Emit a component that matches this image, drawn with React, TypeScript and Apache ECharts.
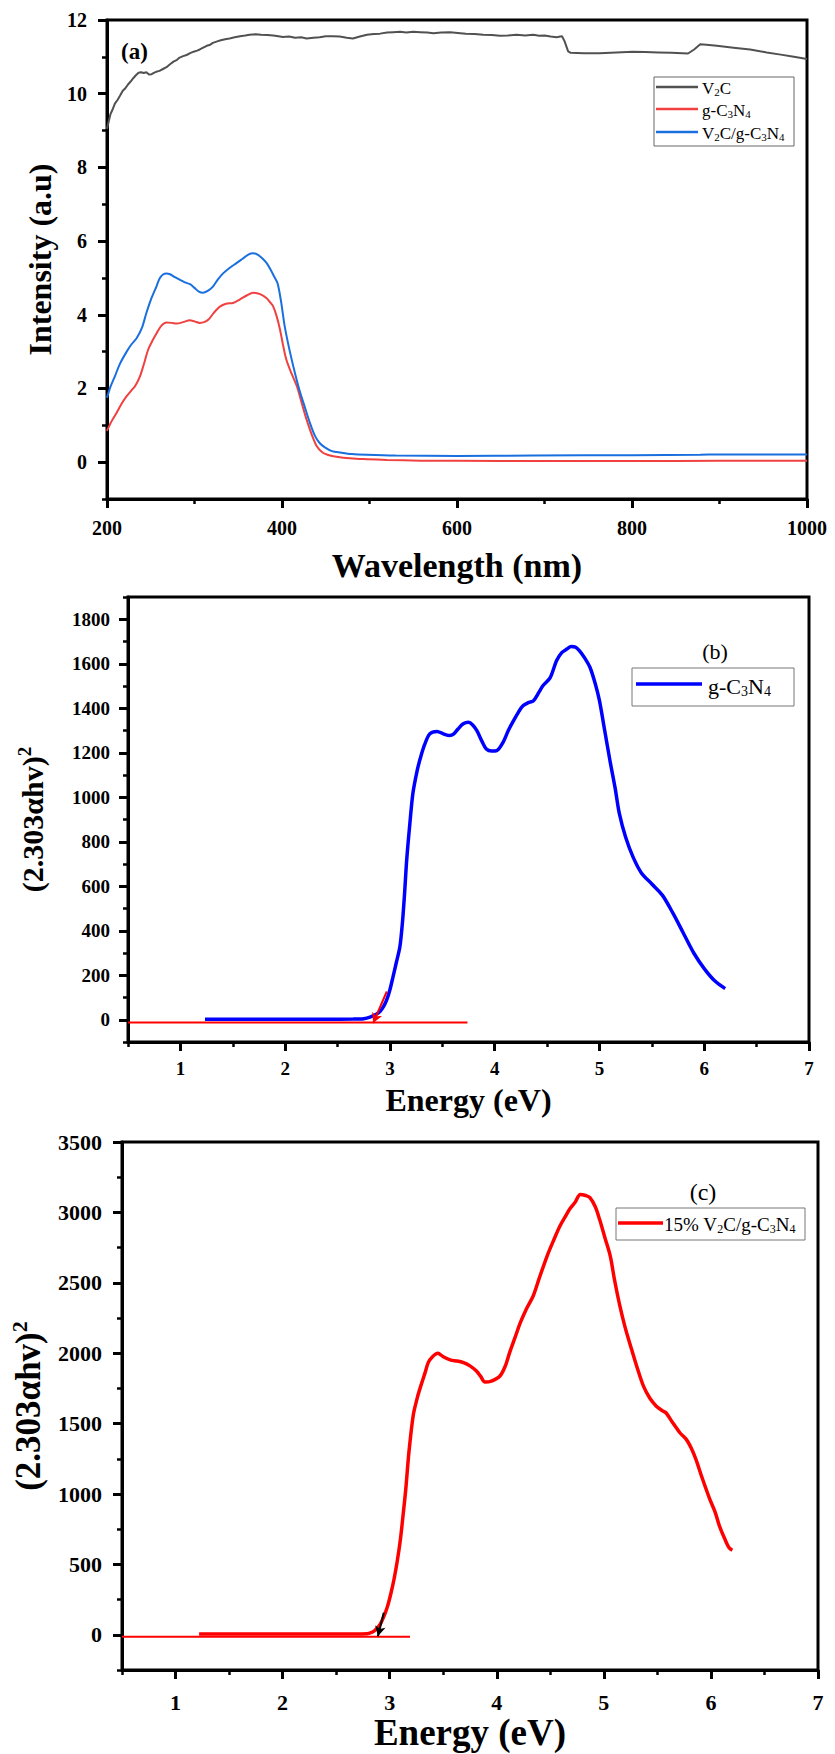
import React, { useEffect, useRef } from "react";
import * as echarts from "echarts";

const FONT = "Liberation Serif";

// ---------- Panel (a): absorbance spectra ----------
const aXMajor = [200, 400, 600, 800, 1000];
const aXMinor = [300, 500, 700, 900];
const aYMajor = [0, 2, 4, 6, 8, 10, 12];
const aYMinor = [-1, 1, 3, 5, 7, 9, 11];

const v2cSpectrum = [
  [200, 9.05], [202, 9.25], [204, 9.45], [206, 9.55], [209, 9.73], [212, 9.83], [215, 9.95], [218, 10.08],
  [221, 10.15], [224, 10.25], [227, 10.33], [230, 10.42], [233, 10.5], [236, 10.57], [239, 10.58], [242, 10.56],
  [245, 10.58], [248, 10.52], [251, 10.53], [254, 10.57], [257, 10.6], [260, 10.62], [264, 10.67], [268, 10.72],
  [272, 10.8], [276, 10.87], [280, 10.92], [283, 10.98], [287, 11.02], [291, 11.05], [295, 11.1], [299, 11.14],
  [303, 11.17], [306, 11.2], [310, 11.25], [314, 11.3], [318, 11.33], [321, 11.38], [326, 11.42], [330, 11.45],
  [335, 11.48], [340, 11.5], [346, 11.53], [352, 11.56], [358, 11.58], [363, 11.6], [370, 11.61], [376, 11.6],
  [383, 11.59], [390, 11.58], [396, 11.56], [401, 11.54], [408, 11.55], [415, 11.52], [422, 11.53], [428, 11.5],
  [436, 11.52], [443, 11.53], [450, 11.56], [458, 11.56], [466, 11.55], [474, 11.52], [481, 11.5], [489, 11.55],
  [497, 11.6], [505, 11.62], [512, 11.63], [520, 11.66], [527, 11.67], [535, 11.68], [542, 11.66], [550, 11.68],
  [558, 11.67], [566, 11.66], [573, 11.64], [582, 11.66], [592, 11.67], [601, 11.65], [610, 11.63], [620, 11.62],
  [630, 11.6], [640, 11.59], [649, 11.57], [658, 11.58], [668, 11.6], [678, 11.58], [687, 11.6], [694, 11.57],
  [700, 11.58], [707, 11.55], [714, 11.53], [718, 11.55], [720, 11.56], [723, 11.42], [727, 11.15], [730, 11.11],
  [745, 11.1], [763, 11.1], [782, 11.12], [801, 11.14], [815, 11.13], [830, 11.12], [845, 11.11], [864, 11.09],
  [871, 11.2], [878, 11.34], [885, 11.33], [897, 11.3], [916, 11.25], [935, 11.2], [954, 11.12], [970, 11.06],
  [985, 11.0], [1000, 10.94],
];

const gcnSpectrum = [
  [200, 0.85], [205, 1.1], [211, 1.34], [217, 1.6], [222.5, 1.79], [228, 1.95], [232, 2.06], [237.7, 2.33],
  [242, 2.65], [247, 3.05], [252, 3.3], [256.7, 3.5], [262, 3.7], [268, 3.79], [274, 3.78], [279.5, 3.76],
  [287, 3.8], [294.7, 3.85], [300, 3.82], [306, 3.78], [311, 3.8], [316, 3.87], [322, 4.05], [329, 4.22],
  [336, 4.3], [344, 4.32], [352, 4.42], [360, 4.53], [367, 4.6], [375, 4.56], [382.5, 4.45], [387, 4.32],
  [390, 4.22], [394, 3.95], [397.7, 3.6], [401, 3.2], [405, 2.78], [411, 2.4], [417, 2.06], [422, 1.65],
  [428, 1.16], [434, 0.75], [439.6, 0.44], [446, 0.27], [452, 0.2], [458.6, 0.16], [470, 0.12], [485, 0.09],
  [497, 0.08], [520, 0.06], [558, 0.04], [600, 0.035], [700, 0.03], [800, 0.03], [900, 0.035], [1000, 0.035],
];

const compositeSpectrum = [
  [200, 1.75], [204, 2.05], [209, 2.33], [215, 2.68], [222.5, 3.0], [228, 3.2], [234, 3.37], [240, 3.65],
  [245, 4.05], [250, 4.4], [256.7, 4.78], [260, 4.98], [264.4, 5.1], [268, 5.12], [272, 5.1], [277, 5.03],
  [283.4, 4.95], [289, 4.88], [294.9, 4.83], [300, 4.73], [305, 4.63], [310, 4.6], [316, 4.66], [321.5, 4.78],
  [327, 4.97], [333, 5.13], [340, 5.27], [348, 5.4], [355, 5.52], [362, 5.64], [367, 5.67], [373, 5.62],
  [378, 5.52], [382.5, 5.4], [387, 5.22], [391, 5.04], [395, 4.85], [399, 4.35], [403, 3.7], [409, 3.0],
  [415, 2.4], [420, 1.95], [426, 1.5], [432, 1.06], [437.5, 0.72], [443, 0.52], [449, 0.4], [457, 0.3],
  [467, 0.26], [480, 0.22], [497, 0.2], [530, 0.18], [600, 0.17], [687, 0.18], [800, 0.19], [878, 0.2],
  [900, 0.21], [1000, 0.21],
];

// ---------- Panel (b): Tauc plot g-C3N4 ----------
const bXMajor = [1, 2, 3, 4, 5, 6, 7];
const bXMinor = [0.5, 1.5, 2.5, 3.5, 4.5, 5.5, 6.5];
const bYMajor = [0, 200, 400, 600, 800, 1000, 1200, 1400, 1600, 1800];
const bYMinor = [-100, 100, 300, 500, 700, 900, 1100, 1300, 1500, 1700, 1900];

const gcnTauc = [
  [1.235, 2], [1.5, 2], [2.0, 2], [2.4, 2], [2.65, 3], [2.75, 5], [2.81, 12], [2.87, 25], [2.905, 37],
  [2.94, 60], [2.97, 90], [3.0, 135], [3.03, 194], [3.06, 255], [3.095, 328], [3.12, 440], [3.14, 568],
  [3.16, 717], [3.19, 880], [3.22, 1020], [3.26, 1120], [3.29, 1175], [3.33, 1235], [3.38, 1285],
  [3.45, 1296], [3.51, 1285], [3.57, 1277], [3.61, 1285], [3.65, 1307], [3.7, 1330], [3.75, 1337],
  [3.79, 1325], [3.83, 1299], [3.88, 1250], [3.92, 1217], [3.97, 1208], [4.02, 1210], [4.08, 1247],
  [4.13, 1300], [4.18, 1344], [4.23, 1385], [4.27, 1411], [4.32, 1425], [4.37, 1434], [4.42, 1470],
  [4.46, 1501], [4.53, 1538], [4.59, 1613], [4.64, 1650], [4.69, 1666], [4.73, 1677], [4.77, 1675],
  [4.81, 1658], [4.86, 1625], [4.91, 1583], [4.96, 1510], [5.0, 1434], [5.05, 1300], [5.1, 1165],
  [5.15, 1040], [5.19, 926], [5.25, 820], [5.32, 732], [5.4, 660], [5.5, 610], [5.6, 560], [5.7, 480],
  [5.8, 390], [5.9, 300], [6.0, 230], [6.1, 175], [6.2, 140],
];
const bBaseline = [[0.5, -12], [3.74, -12]];
const bArrow = [[2.97, 127], [2.84, -15]];

// ---------- Panel (c): Tauc plot 15% V2C/g-C3N4 ----------
const cXMajor = [1, 2, 3, 4, 5, 6, 7];
const cXMinor = [0.5, 1.5, 2.5, 3.5, 4.5, 5.5, 6.5];
const cYMajor = [0, 500, 1000, 1500, 2000, 2500, 3000, 3500];
const cYMinor = [-250, 250, 750, 1250, 1750, 2250, 2750, 3250];

const compTauc = [
  [1.22, 5], [1.5, 5], [2.0, 5], [2.5, 5], [2.79, 8], [2.84, 20], [2.87, 38], [2.91, 73], [2.945, 130],
  [2.98, 203], [3.01, 290], [3.04, 393], [3.07, 520], [3.1, 677], [3.125, 850], [3.15, 1032], [3.18, 1300],
  [3.22, 1560], [3.26, 1690], [3.29, 1766], [3.33, 1860], [3.36, 1933], [3.4, 1975], [3.45, 1999],
  [3.5, 1975], [3.57, 1951], [3.63, 1945], [3.69, 1933], [3.75, 1910], [3.81, 1873], [3.85, 1835],
  [3.89, 1795], [3.95, 1802], [4.03, 1838], [4.08, 1910], [4.12, 2004], [4.17, 2110], [4.22, 2217],
  [4.28, 2320], [4.34, 2406], [4.4, 2540], [4.47, 2690], [4.53, 2800], [4.59, 2903], [4.64, 2970],
  [4.68, 3022], [4.73, 3070], [4.78, 3128], [4.83, 3120], [4.87, 3105], [4.92, 3040], [4.96, 2951],
  [5.01, 2820], [5.06, 2690], [5.1, 2520], [5.15, 2335], [5.2, 2180], [5.25, 2050], [5.31, 1900],
  [5.37, 1766], [5.43, 1680], [5.49, 1624], [5.55, 1590], [5.58, 1577], [5.64, 1510], [5.71, 1435],
  [5.77, 1388], [5.82, 1320], [5.86, 1246], [5.92, 1110], [5.99, 962], [6.04, 870], [6.08, 772],
  [6.13, 680], [6.17, 618], [6.2, 601],
];
const cBaseline = [[0.5, -14], [3.19, -14]];
const cArrow = [[2.945, 156], [2.89, -10]];

type AxisSpec = {
  grid: number;
  min: number;
  max: number;
  major: number[];
  minor: number[];
  labelSize: number;
  margin: number;
  name: string;
  nameGap: number;
  nameSize: number;
  rich?: any;
};

function makeAxes(dim: "x" | "y", s: AxisSpec) {
  const position = dim === "x" ? "bottom" : "left";
  const base = {
    type: "value",
    gridIndex: s.grid,
    min: s.min,
    max: s.max,
    position,
    splitLine: { show: false },
  };
  return [
    {
      ...base,
      axisLine: { show: true, onZero: false, lineStyle: { color: "#000", width: 3 } },
      axisTick: {
        show: true,
        inside: false,
        length: 9,
        lineStyle: { color: "#000", width: 3 },
        customValues: s.major,
      },
      axisLabel: {
        show: true,
        customValues: s.major,
        margin: s.margin,
        color: "#000",
        fontFamily: FONT,
        fontWeight: "bold",
        fontSize: s.labelSize,
        formatter: (v: number) => String(v),
      },
      name: s.name,
      nameLocation: "middle",
      nameGap: s.nameGap,
      nameRotate: dim === "y" ? 90 : 0,
      nameTextStyle: {
        color: "#000",
        fontFamily: FONT,
        fontWeight: "bold",
        fontSize: s.nameSize,
        rich: s.rich,
      },
    },
    {
      ...base,
      axisLine: { show: false, onZero: false },
      axisTick: {
        show: true,
        inside: false,
        length: 5,
        lineStyle: { color: "#000", width: 2.5 },
        customValues: s.minor,
      },
      axisLabel: { show: false },
    },
  ];
}

function tauc(size: number, supSize: number, shift: number) {
  return {
    t: { fontSize: size, fontWeight: "bold", fontFamily: FONT, color: "#000" },
    sup: { fontSize: supSize, fontWeight: "bold", fontFamily: FONT, color: "#000", padding: [0, 0, shift, 0] },
  };
}

function legendRich(size: number, sub: number, shift: number) {
  return {
    n: { fontSize: size, fontFamily: FONT, fill: "#000" },
    s: { fontSize: sub, fontFamily: FONT, fill: "#000", padding: [shift, 0, 0, 0] },
  };
}

function buildOption() {
  const xAxes = [
    ...makeAxes("x", { grid: 0, min: 200, max: 1000, major: aXMajor, minor: aXMinor, labelSize: 20, margin: 19, name: "Wavelength (nm)", nameGap: 49, nameSize: 34 }),
    ...makeAxes("x", { grid: 1, min: 0.5, max: 7, major: bXMajor, minor: bXMinor, labelSize: 19, margin: 17, name: "Energy (eV)", nameGap: 42, nameSize: 32 }),
    ...makeAxes("x", { grid: 2, min: 0.5, max: 7, major: cXMajor, minor: cXMinor, labelSize: 22, margin: 21, name: "Energy (eV)", nameGap: 43, nameSize: 37 }),
  ];
  const yAxes = [
    ...makeAxes("y", { grid: 0, min: -1, max: 12, major: aYMajor, minor: aYMinor, labelSize: 20, margin: 20, name: "Intensity (a.u)", nameGap: 43, nameSize: 32 }),
    ...makeAxes("y", { grid: 1, min: -100, max: 1900, major: bYMajor, minor: bYMinor, labelSize: 19, margin: 18, name: "{t|(2.303αhv)}{sup|2}", nameGap: 78, nameSize: 30, rich: tauc(30, 19, 16) }),
    ...makeAxes("y", { grid: 2, min: -250, max: 3500, major: cYMajor, minor: cYMinor, labelSize: 22, margin: 20, name: "{t|(2.303αhv)}{sup|2}", nameGap: 74, nameSize: 35, rich: tauc(35, 22, 18) }),
  ];

  const gridStyle = { show: true, borderColor: "#000", borderWidth: 3, backgroundColor: "transparent" };

  const lineSeries = (name: string, g: number, data: number[][], color: string, width: number, smooth: number | boolean) => ({
    name,
    type: "line",
    xAxisIndex: 2 * g,
    yAxisIndex: 2 * g,
    data,
    symbol: "none",
    showSymbol: false,
    smooth,
    silent: true,
    lineStyle: { color, width },
    itemStyle: { color },
  });

  const baseline = (name: string, g: number, data: number[][], arrow: number[][], arrowColor: string) => ({
    ...lineSeries(name, g, data, "#FF0000", 2, false),
    z: 3,
    markLine: {
      silent: true,
      symbol: ["none", "arrow"],
      symbolSize: [8, 10],
      label: { show: false },
      lineStyle: { color: arrowColor, width: 2, type: "solid" },
      data: [[{ coord: arrow[0] }, { coord: arrow[1] }]],
    },
  });

  const rA = legendRich(17, 11, 8);
  const rB = legendRich(22, 14, 10);
  const rC = legendRich(19, 12, 9);

  const graphic = [
    { type: "text", x: 121, y: 51, style: { text: "(a)", fontFamily: FONT, fontWeight: "bold", fontSize: 23, fill: "#000", verticalAlign: "middle" } },
    // legend (a)
    { type: "rect", shape: { x: 654, y: 77, width: 140, height: 69 }, style: { fill: "#fff", stroke: "#666", lineWidth: 1 }, z: 10 },
    { type: "line", shape: { x1: 656, y1: 87, x2: 698, y2: 87 }, style: { stroke: "#515151", lineWidth: 2.5 }, z: 11 },
    { type: "line", shape: { x1: 656, y1: 109, x2: 698, y2: 109 }, style: { stroke: "#F14040", lineWidth: 2.5 }, z: 11 },
    { type: "line", shape: { x1: 656, y1: 132, x2: 698, y2: 132 }, style: { stroke: "#1A6FDF", lineWidth: 2.5 }, z: 11 },
    { type: "text", x: 702, y: 88, z: 11, style: { text: "{n|V}{s|2}{n|C}", rich: rA, verticalAlign: "middle" } },
    { type: "text", x: 702, y: 110, z: 11, style: { text: "{n|g-C}{s|3}{n|N}{s|4}", rich: rA, verticalAlign: "middle" } },
    { type: "text", x: 702, y: 133, z: 11, style: { text: "{n|V}{s|2}{n|C/g-C}{s|3}{n|N}{s|4}", rich: rA, verticalAlign: "middle" } },
    // panel (b)
    { type: "text", x: 715, y: 651, style: { text: "(b)", fontFamily: FONT, fontSize: 22, fill: "#000", align: "center", verticalAlign: "middle" } },
    { type: "rect", shape: { x: 632, y: 668, width: 162, height: 38 }, style: { fill: "#fff", stroke: "#777", lineWidth: 1 }, z: 10 },
    { type: "line", shape: { x1: 636, y1: 684, x2: 702, y2: 684 }, style: { stroke: "#0000FF", lineWidth: 3.5 }, z: 11 },
    { type: "text", x: 708, y: 686, z: 11, style: { text: "{n|g-C}{s|3}{n|N}{s|4}", rich: rB, verticalAlign: "middle" } },
    // panel (c)
    { type: "text", x: 703, y: 1192, style: { text: "(c)", fontFamily: FONT, fontSize: 24, fill: "#000", align: "center", verticalAlign: "middle" } },
    { type: "rect", shape: { x: 616, y: 1208, width: 189, height: 32 }, style: { fill: "#fff", stroke: "#777", lineWidth: 1 }, z: 10 },
    { type: "line", shape: { x1: 618, y1: 1223, x2: 663, y2: 1223 }, style: { stroke: "#FF0000", lineWidth: 3.5 }, z: 11 },
    { type: "text", x: 664, y: 1224, z: 11, style: { text: "{n|15% V}{s|2}{n|C/g-C}{s|3}{n|N}{s|4}", rich: rC, verticalAlign: "middle" } },
  ];

  return {
    animation: false,
    backgroundColor: "#fff",
    grid: [
      { left: 107, top: 20, width: 700, height: 479, ...gridStyle },
      { left: 128, top: 597, width: 681, height: 445, ...gridStyle },
      { left: 121, top: 1142, width: 697, height: 528, ...gridStyle },
    ],
    xAxis: xAxes,
    yAxis: yAxes,
    series: [
      lineSeries("V2C", 0, v2cSpectrum, "#515151", 2, false),
      lineSeries("g-C3N4", 0, gcnSpectrum, "#F14040", 2, 0.3),
      lineSeries("V2C/g-C3N4", 0, compositeSpectrum, "#1A6FDF", 2, 0.3),
      lineSeries("g-C3N4 Tauc", 1, gcnTauc, "#0000FF", 3.5, 0.3),
      baseline("g-C3N4 baseline", 1, bBaseline, bArrow, "#FF0000"),
      lineSeries("15% V2C/g-C3N4 Tauc", 2, compTauc, "#FF0000", 3.5, 0.3),
      baseline("15% baseline", 2, cBaseline, cArrow, "#000000"),
    ],
    graphic,
  };
}

export default function App() {
  const ref = useRef<HTMLDivElement>(null);
  useEffect(() => {
    if (!ref.current) return;
    const chart = echarts.init(ref.current, undefined, { renderer: "svg" });
    chart.setOption(buildOption() as any);
    return () => chart.dispose();
  }, []);
  return (
    <div
      ref={ref}
      style={{ position: "absolute", left: 0, top: 0, width: 835, height: 1754, background: "#fff" }}
    />
  );
}
